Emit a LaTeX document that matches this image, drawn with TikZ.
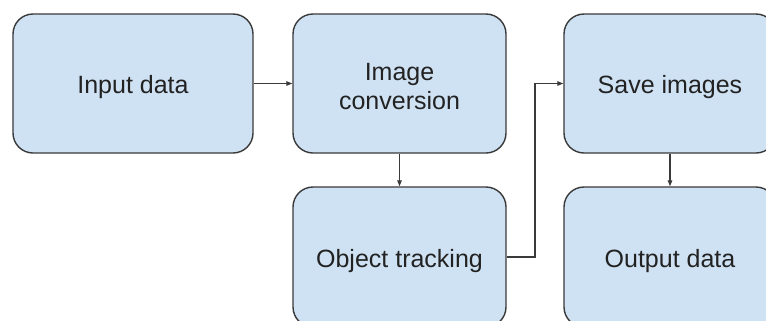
\documentclass[tikz,border=0pt]{standalone}
\usepackage{fontspec}
\setmainfont{Liberation Sans}
\usetikzlibrary{arrows.meta}
\definecolor{boxfill}{HTML}{CFE2F3}
\definecolor{boxline}{HTML}{3A3A3A}
\definecolor{txt}{HTML}{222222}
\newcommand\boxlbl[2][-10.5bp]{\raisebox{#1}[0pt][0pt]{\begin{tabular}{@{}c@{}}#2\end{tabular}}}
\begin{document}
\begin{tikzpicture}[x=1bp,y=-1bp,
  procbox/.style={draw=boxline,line width=1.4bp,fill=boxfill,rounded corners=20bp,
    minimum height=139bp,inner sep=0pt,text=txt,
    font=\fontsize{25bp}{29bp}\selectfont},
  conn/.style={draw=boxline,line width=1.3bp,-{Triangle[length=6bp,width=4.5bp]}}]
\useasboundingbox (0,0) rectangle (766,320);
\clip (0,0) rectangle (766,320);
\fill[white] (0,0) rectangle (766,320);
\node[procbox,minimum width=240bp] (in) at (133,83.5) {\boxlbl{Input data}};
\node[procbox,minimum width=213bp] (conv) at (399.5,83.5) {\boxlbl[-11.5bp]{Image\\conversion}};
\node[procbox,minimum width=212bp] (save) at (670,83.5) {\boxlbl{Save images}};
\node[procbox,minimum width=213bp,minimum height=140bp] (obj) at (399.5,257) {\boxlbl{Object tracking}};
\node[procbox,minimum width=212bp,minimum height=140bp] (out) at (670,257) {\boxlbl{Output data}};
\coordinate (bend) at (535,257);
\draw[conn] (in.east) -- (conv.west);
\draw[conn] (conv.south) -- (obj.north);
\draw[conn] (obj.east) -- (bend) |- (save.west);
\draw[conn] (save.south) -- (out.north);
\end{tikzpicture}
\end{document}
